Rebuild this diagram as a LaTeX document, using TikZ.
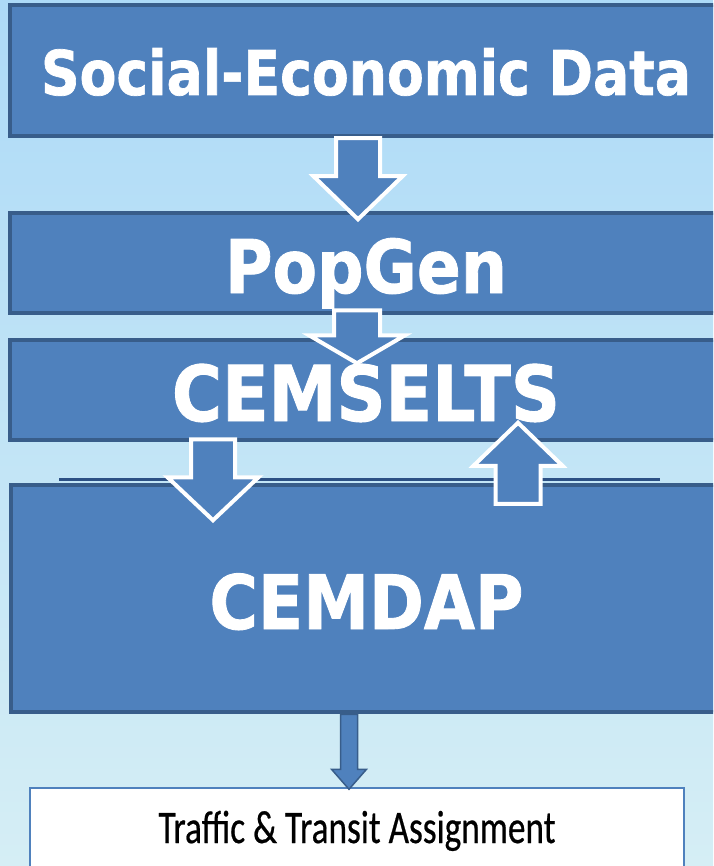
\documentclass[tikz,border=0pt]{standalone}
\usepackage{fontspec}
\setmainfont{DejaVu Sans}
\newfontfamily\heavyfont{DejaVu Sans Bold}[FakeBold=1.2]
\newfontfamily\bodyfont{Carlito}[FakeBold=0.6]
\usetikzlibrary{positioning, calc}
\definecolor{boxblue}{HTML}{4F81BD}
\definecolor{boxedge}{HTML}{385D8A}
\definecolor{stripe}{HTML}{2C5084}
\definecolor{skytop}{HTML}{ADDAF7}
\definecolor{skybottom}{HTML}{D5EEF5}
\newcommand{\fitto}[2]{\resizebox{#1}{\height}{#2}}
% block arrows: start point, shaft width, head width, shaft length, head length
\newcommand{\downblock}[6][]{\draw[blockarrow,#1] #2 -- ++(#3,0) -- ++(0,#5) -- ++({(#4-#3)/2},0) -- ++({-#4/2},#6) -- ++({-#4/2},-#6) -- ++({(#4-#3)/2},0) -- cycle;}
\newcommand{\upblock}[6][]{\draw[blockarrow,#1] #2 -- ++(#3,0) -- ++(0,-#5) -- ++({(#4-#3)/2},0) -- ++({-#4/2},-#6) -- ++({-#4/2},#6) -- ++({(#4-#3)/2},0) -- cycle;}

\begin{document}
\begin{tikzpicture}[x=1pt, y=-1pt,
  stage/.style={rectangle, fill=boxblue, draw=boxedge, line width=4.5pt,
    inner sep=0pt, text=white, font=\heavyfont, text depth=0pt},
  result/.style={rectangle, fill=white, draw=boxblue, line width=2.5pt,
    inner sep=0pt, text=black, font=\bodyfont, text depth=0pt},
  blockarrow/.style={fill=boxblue, draw=white, line width=4pt, line join=miter},
  thinarrow/.style={draw=boxedge, line width=1.5pt}
]
  \fill[top color=skytop, bottom color=skybottom] (0,0) rectangle (713,866);
  \useasboundingbox (0,0) rectangle (713,866);
  \clip (0,0) rectangle (713,866);

  % model chain
  \node[stage, minimum width=712pt, minimum height=131pt, text height=49pt] (socio) at (366,70.5)
    {\fontsize{61.7}{70}\selectfont\fitto{650pt}{Social-Economic Data}};
  \node[stage, minimum width=712pt, minimum height=100pt, text height=60pt] (popgen) at (366,263)
    {\fontsize{74}{80}\selectfont\fitto{282pt}{PopGen}};
  \node[stage, minimum width=712pt, minimum height=100pt, text height=62pt] (cemselts) at (366,390)
    {\fontsize{77}{84}\selectfont\fitto{388pt}{CEMSELTS}};
  \node[stage, minimum width=711pt, minimum height=227pt, text height=61pt] (cemdap) at (366.5,598.5)
    {\fontsize{75}{82}\selectfont\fitto{314pt}{CEMDAP}};
  \fill[stripe] ([shift={(50,-4.5)}]cemdap.north west) rectangle ([shift={(651,-1.5)}]cemdap.north west);
  \node[result, minimum width=654pt, minimum height=100pt, text height=10pt] (assign) at (357,838)
    {\fontsize{46.6}{50}\selectfont\fitto{397pt}{Traffic \& Transit Assignment}};

  % arrows between stages
  \downblock{([shift={(-30,0)}]socio.south)}{44}{89}{38}{43}
  \downblock{([shift={(-32,-5)}]popgen.south)}{46}{96}{25}{28}
  \downblock{([shift={(-175,-3)}]cemselts.south)}{44}{91}{38}{43}
  \upblock{([shift={(129,21)}]cemdap.north)}{45}{89}{38}{43}
  \downblock[thinarrow]{([shift={(-26,0)}]cemdap.south)}{17}{35}{55}{20}
\end{tikzpicture}
\end{document}
